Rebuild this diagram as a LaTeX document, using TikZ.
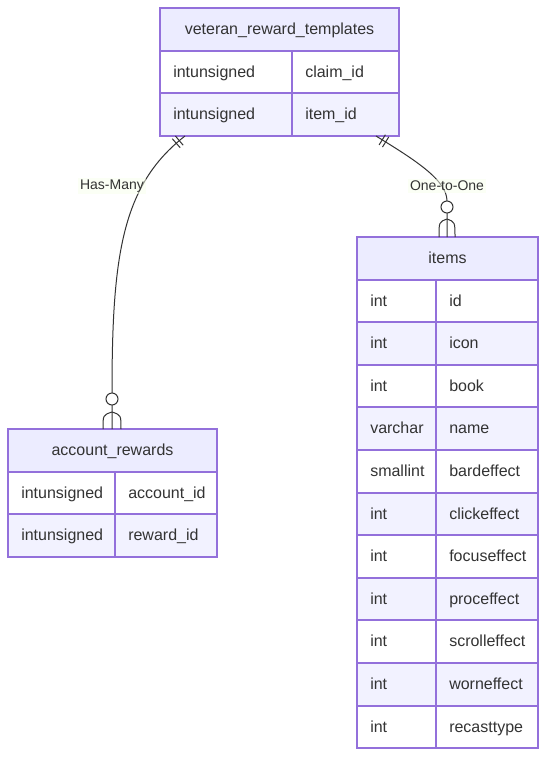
\documentclass[tikz,border=0pt]{standalone}
\usepackage{fontspec}
\setmainfont{Liberation Sans}
\usetikzlibrary{fit,decorations.markings}
\definecolor{bord}{HTML}{9370DB}
\definecolor{hdr}{HTML}{ECECFF}
\definecolor{alt}{HTML}{F2F2FF}
\definecolor{ink}{HTML}{333333}
\definecolor{lblbg}{RGB}{249,255,236}
\tikzset{
  ent/.style={draw=bord, line width=1pt, inner sep=0pt},
  gridline/.style={draw=bord, line width=1pt},
  etitle/.style={text=ink, font=\fontsize{12}{14}\selectfont, anchor=base, inner sep=0pt},
  attr/.style={text=ink, font=\fontsize{12}{14}\selectfont, anchor=base west, inner sep=0pt},
  edge/.style={draw=ink, line width=0.75pt},
  lbl/.style={text=ink, font=\fontsize{10.5}{12}\selectfont, fill=lblbg, fill opacity=0.5, text opacity=1, inner sep=1.5pt},
  onebars/.style={postaction={decorate, decoration={markings,
     mark=at position 5.5pt with {\draw[ink, line width=0.75pt] (0,-4.5pt) -- (0,4.5pt);},
     mark=at position 8.5pt with {\draw[ink, line width=0.75pt] (0,-4.5pt) -- (0,4.5pt);}}}},
}
\newcommand{\ertable}[8]{%
  \fill[hdr] (#2,#3) rectangle (#4,{round(#3+42.6)});
  \foreach[count=\ri] \ty/\nm in {#8} {
    \pgfmathsetmacro{\ya}{round(#3+42.6*\ri)}
    \pgfmathsetmacro{\yb}{round(#3+42.6*(\ri+1))}
    \ifodd\ri\relax\else\fill[alt] (#2,\ya) rectangle (#4,\yb);\fi
  }
  \node[etitle] at ({(#2+#4)/2},{#3+26}) {#7};
  \foreach[count=\ri] \ty/\nm in {#8} {
    \pgfmathsetmacro{\ya}{round(#3+42.6*\ri)}
    \pgfmathsetmacro{\ym}{#3+42.6*\ri+26.5}
    \draw[gridline] (#2,\ya) -- (#4,\ya);
    \node[attr] at ({#2+13},\ym) {\ty};
    \node[attr] at ({#6+13},\ym) {\nm};
  }
  \draw[gridline] (#6,{round(#3+42.6)}) -- (#6,#5);
  \node[ent, fit={(#2,#3) (#4,#5)}] (#1) {};
}
\begin{document}
\begin{tikzpicture}[x=0.75pt, y=-0.75pt]
\useasboundingbox (0,0) rectangle (547,758);
\fill[white] (0,0) rectangle (547,758);

\ertable{vrt}{160}{8}{399}{136}{292}{veteran\_reward\_templates}{intunsigned/claim\_id, intunsigned/item\_id}
\ertable{acc}{8}{429}{217}{557}{115}{account\_rewards}{intunsigned/account\_id, intunsigned/reward\_id}
\ertable{itm}{357}{237}{538}{748}{436}{items}{int/id, int/icon, int/book, varchar/name, smallint/bardeffect, int/clickeffect, int/focuseffect, int/proceffect, int/scrolleffect, int/worneffect, int/recasttype}

% edge 1: veteran_reward_templates -> account_rewards
\coordinate (v1) at (185,136);
\coordinate (a1) at (112,429);
\draw[edge, onebars] (v1) .. controls (122,185) and (112,255) .. (112,393) -- (a1);
\draw[edge, fill=white] (112,399) circle[radius=4.5pt];
\draw[edge] (112,412) .. controls (103,415) .. (103,429);
\draw[edge] (112,412) .. controls (121,415) .. (121,429);

% edge 2: veteran_reward_templates -> items
\coordinate (v2) at (376,136);
\coordinate (i1) at (447,237);
\draw[edge, onebars] (v2) .. controls (415,160) and (447,180) .. (447,201) -- (i1);
\draw[edge, fill=white] (447,207) circle[radius=4.5pt];
\draw[edge] (447,219) .. controls (439,222) .. (439,237);
\draw[edge] (447,219) .. controls (455,222) .. (455,237);

\node[lbl] (l1) at (112,186) {Has-Many};
\node[lbl] (l2) at (447,186) {One-to-One};
\end{tikzpicture}
\end{document}
